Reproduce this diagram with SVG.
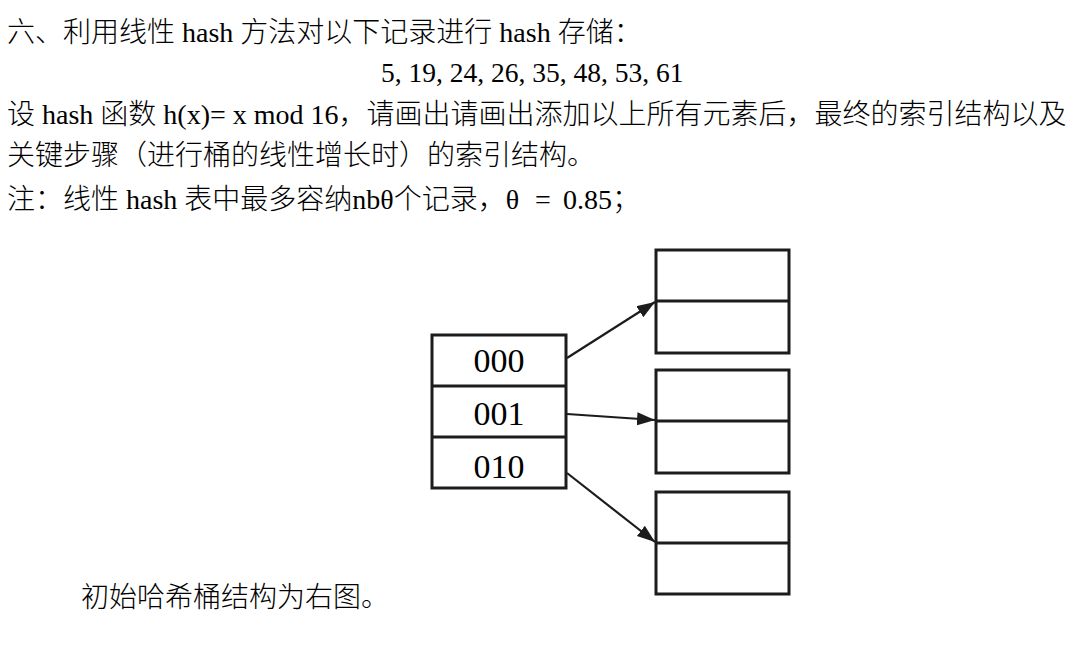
<svg xmlns="http://www.w3.org/2000/svg" width="1081" height="658" viewBox="0 0 1081 658">
<defs>
<style>
.t{font-family:'Liberation Serif','Noto Sans CJK SC',serif;font-size:28px;font-weight:300;fill:#000}
.lbl{font-family:'Liberation Serif',serif;font-size:34px;fill:#000;text-anchor:middle}
.box{fill:#fff;stroke:#1c1c1c;stroke-width:3}
.div{stroke:#1c1c1c;stroke-width:3}
.arr{stroke:#1c1c1c;stroke-width:2.2;fill:none;marker-end:url(#ah)}
</style>
<marker id="ah" markerUnits="userSpaceOnUse" markerWidth="20" markerHeight="14" refX="18" refY="6.5" orient="auto">
<path d="M0,0 L18,6.5 L0,13 z" fill="#1c1c1c"/>
</marker>
</defs>
<rect width="1081" height="658" fill="#fff"/>
<g id="text">
<text class="t" x="7" y="42">六、利用线性 hash 方法对以下记录进行 hash 存储：</text>
<text class="t" x="381" y="82" style="font-size:27.5px">5, 19, 24, 26, 35, 48, 53, 61</text>
<text class="t" x="7" y="124">设 hash 函数 h(x)= x mod 16，请画出请画出添加以上所有元素后，最终的索引结构以及</text>
<text class="t" x="7" y="165">关键步骤（进行桶的线性增长时）的索引结构。</text>
<text class="t" x="7" y="209">注：线性 hash 表中最多容纳nbθ个记录，θ<tspan x="535">=</tspan><tspan x="563">0.85；</tspan></text>
<text class="t" x="81" y="607">初始哈希桶结构为右图。</text>
</g>
<g id="index">
<rect class="box" x="432" y="335" width="134" height="153"/>
<line class="div" x1="432" y1="386" x2="566" y2="386"/>
<line class="div" x1="432" y1="437" x2="566" y2="437"/>
<text class="lbl" x="499" y="372">000</text>
<text class="lbl" x="499" y="425">001</text>
<text class="lbl" x="499" y="478">010</text>
</g>
<g id="bucket1">
<rect class="box" x="656" y="250" width="133" height="103"/>
<line class="div" x1="656" y1="301" x2="789" y2="301"/>
</g>
<g id="bucket2">
<rect class="box" x="656" y="370" width="133" height="103"/>
<line class="div" x1="656" y1="421" x2="789" y2="421"/>
</g>
<g id="bucket3">
<rect class="box" x="656" y="492" width="133" height="102"/>
<line class="div" x1="656" y1="543" x2="789" y2="543"/>
</g>
<g id="connectors">
<line class="arr" x1="567" y1="358" x2="655" y2="302"/>
<line class="arr" x1="567" y1="414" x2="655" y2="420"/>
<line class="arr" x1="567" y1="473" x2="655" y2="542"/>
</g>
</svg>
